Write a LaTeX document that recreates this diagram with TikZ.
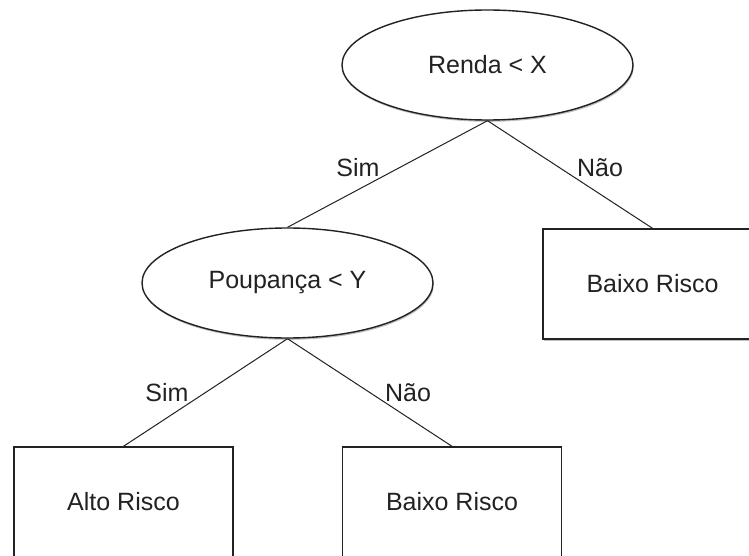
\documentclass[tikz,border=0pt]{standalone}
\usepackage{fontspec}
\setmainfont{Liberation Sans}
\usetikzlibrary{shapes.geometric,shadows}
\definecolor{ink}{HTML}{222222}
\tikzset{
  base/.style={draw=ink, line width=1.4pt, fill=white, inner sep=0pt,
    text=ink, font=\fontsize{25}{30}\selectfont,
    drop shadow={shadow xshift=0.8pt, shadow yshift=-1.8pt, fill=black, opacity=0.25}},
  test/.style={base, ellipse, minimum width=291pt, minimum height=110pt},
  leaf/.style={base, rectangle, minimum width=219pt, minimum height=110pt},
  branch/.style={draw=ink, line width=1pt},
  lbl/.style={text=ink, font=\fontsize{25}{30}\selectfont, inner sep=0pt}
}
\begin{document}
\begin{tikzpicture}[x=1pt, y=-1pt]
  \useasboundingbox (0,0) rectangle (749,556);
  \clip (0,0) rectangle (749,556);
  \fill[white] (0,0) rectangle (749,556);

  % decision nodes
  \node[test] (renda) at (487.5,65) {Renda < X};
  \node[test] (poup)  at (287.5,283) {Poupança < Y};

  % leaves
  \node[leaf] (baixoA) at (652.5,284) {Baixo Risco};
  \node[leaf] (alto)   at (123.5,502) {Alto Risco};
  \node[leaf] (baixoB) at (452,502)   {Baixo Risco};

  % branches
  \draw[branch] (renda.south) -- (poup.north);
  \draw[branch] (renda.south) -- (baixoA.north);
  \draw[branch] (poup.south) -- (alto.north);
  \draw[branch] (poup.south) -- (baixoB.north);

  % branch labels
  \node[lbl] (s1) at (358,168) {Sim};
  \node[lbl] (n1) at (600,168) {Não};
  \node[lbl] (s2) at (167,393) {Sim};
  \node[lbl] (n2) at (408,393) {Não};
\end{tikzpicture}
\end{document}
